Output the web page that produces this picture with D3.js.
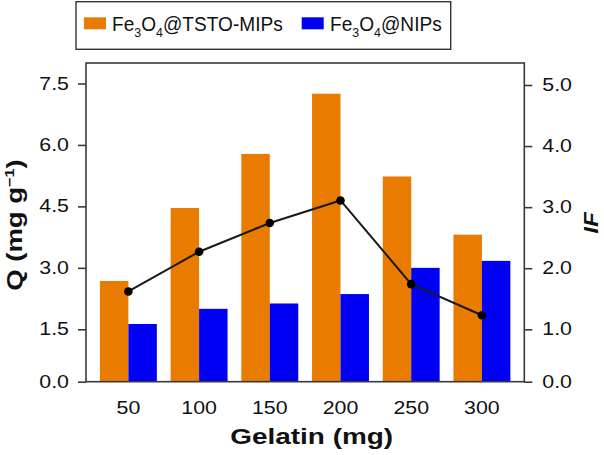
<!DOCTYPE html>
<html><head><meta charset="utf-8">
<script src="https://cdn.jsdelivr.net/npm/d3@7"></script>
<style>
html,body{margin:0;padding:0;background:#fff;}
svg{display:block;font-family:"Liberation Sans",Arial,sans-serif;}
</style></head>
<body>
<svg id="chart" width="604" height="455"></svg>
<script>
// ---- data ----
const gelatin = ["50","100","150","200","250","300"];
const mipsQ = [2.68, 4.46, 5.78, 7.25, 5.23, 3.81];
const nipsQ = [1.63, 2.00, 2.13, 2.36, 3.00, 3.17];
const imprintFactor = [1.62, 2.27, 2.74, 3.11, 1.74, 1.23];
const leftTicks = [0, 1.5, 3.0, 4.5, 6.0, 7.5];
const rightTicks = [0, 1, 2, 3, 4, 5];
const seriesNames = ["Fe3O4@TSTO-MIPs", "Fe3O4@NIPs"];
const colors = ["#E97B00", "#0000F5"];

const svg = d3.select("#chart");
const L = 86, R = 524.3, T = 63, B = 381.7;
const SX = 1.22; // horizontal text widening

const x = d3.scaleBand().domain(gelatin).range([L, R]).paddingInner(0.195).paddingOuter(0.197);
const x1 = d3.scaleBand().domain([0, 1]).range([0, x.bandwidth()]);
const yL = d3.scaleLinear().domain([0, 1.5, 8]).range([B, 329.3, T]);
const yR = d3.scaleLinear().domain([0, 1, 5.36]).range([B, 329.3, T]);

// bars
const groups = svg.append("g").selectAll("g").data(gelatin).join("g")
  .attr("transform", d => `translate(${x(d)},0)`);
groups.append("rect")
  .attr("x", x1(0)).attr("width", x1.bandwidth())
  .attr("y", (d, i) => yL(mipsQ[i])).attr("height", (d, i) => B - yL(mipsQ[i]))
  .attr("fill", colors[0]);
groups.append("rect")
  .attr("x", x1(1)).attr("width", x1.bandwidth())
  .attr("y", (d, i) => yL(nipsQ[i])).attr("height", (d, i) => B - yL(nipsQ[i]))
  .attr("fill", colors[1]);

// line
const cx = d => x(d) + x.bandwidth() / 2;
const line = d3.line().x((d, i) => cx(gelatin[i])).y(d => yR(d));
svg.append("path").datum(imprintFactor).attr("d", line)
  .attr("fill", "none").attr("stroke", "#1a1a1a").attr("stroke-width", 2);
svg.append("g").selectAll("circle").data(imprintFactor).join("circle")
  .attr("cx", (d, i) => cx(gelatin[i])).attr("cy", d => yR(d)).attr("r", 4.3).attr("fill", "#000");

// frame
svg.append("rect").attr("x", L).attr("y", T).attr("width", R - L).attr("height", B - T)
  .attr("fill", "none").attr("stroke", "#3a3a3a").attr("stroke-width", 1.6);

function widen(g, sx) {
  g.selectAll(".tick text").each(function () {
    const t = d3.select(this);
    const tx = +t.attr("x") || 0, ty = +t.attr("y") || 0;
    t.attr("x", 0).attr("y", 0).attr("transform", `translate(${tx},${ty}) scale(${sx},1)`);
  });
}
function styleAxis(g) {
  g.select(".domain").remove();
  g.selectAll(".tick line").attr("stroke", "#3a3a3a").attr("stroke-width", 1.6);
  g.selectAll(".tick text").attr("fill", "#111").style("font-size", "17.5px")
    .style("font-family", '"Liberation Sans",Arial,sans-serif');
}

const gl = svg.append("g").attr("transform", `translate(${L},0)`)
  .call(d3.axisLeft(yL).tickValues(leftTicks).tickFormat(d3.format(".1f")).tickSize(8).tickPadding(9));
styleAxis(gl); widen(gl, SX);

const gr = svg.append("g").attr("transform", `translate(${R},0)`)
  .call(d3.axisRight(yR).tickValues(rightTicks).tickFormat(d3.format(".1f")).tickSize(8).tickPadding(10));
styleAxis(gr); widen(gr, SX);

const gb = svg.append("g").attr("transform", `translate(0,${B})`)
  .call(d3.axisBottom(x).tickSize(0).tickPadding(20));
styleAxis(gb); widen(gb, SX);

// axis titles
function label(tx, ty, rot, opts) {
  return svg.append("text")
    .attr("transform", `translate(${tx},${ty}) rotate(${rot}) scale(${opts.sx},1)`)
    .attr("text-anchor", "middle").attr("fill", "#111")
    .style("font-size", opts.size + "px").style("font-weight", "bold")
    .style("font-style", opts.italic ? "italic" : "normal");
}
label(311.7, 444.3, 0, {sx: 1.27, size: 22}).text("Gelatin (mg)");
const q = label(21.5, 225, -90, {sx: 1.25, size: 22});
q.append("tspan").text("Q (mg g");
q.append("tspan").attr("dy", -8).style("font-size", "13px").text("\u22121");
q.append("tspan").attr("dy", 8).text(")");
label(598, 223, -90, {sx: 1.15, size: 21, italic: true}).text("IF");

// legend
const lg = svg.append("g");
lg.append("rect").attr("x", 76).attr("y", 1.7).attr("width", 374.7).attr("height", 47.6)
  .attr("fill", "#fff").attr("stroke", "#333").attr("stroke-width", 1.4);
const legendX = [[84, 112], [301.7, 330]];
seriesNames.forEach((name, i) => {
  lg.append("rect").attr("x", legendX[i][0]).attr("y", 17.3).attr("width", 22).attr("height", 12)
    .attr("fill", colors[i]);
  const t = lg.append("text").attr("transform", `translate(${legendX[i][1]},31) scale(0.955,1)`)
    .attr("fill", "#111").style("font-size", "20px");
  const parts = name.match(/^Fe3O4(.*)$/);
  t.append("tspan").text("Fe");
  t.append("tspan").attr("dy", 6).style("font-size", "13px").text("3");
  t.append("tspan").attr("dy", -6).text("O");
  t.append("tspan").attr("dy", 6).style("font-size", "13px").text("4");
  t.append("tspan").attr("dy", -6).text(parts[1]);
});
</script>
</body></html>
